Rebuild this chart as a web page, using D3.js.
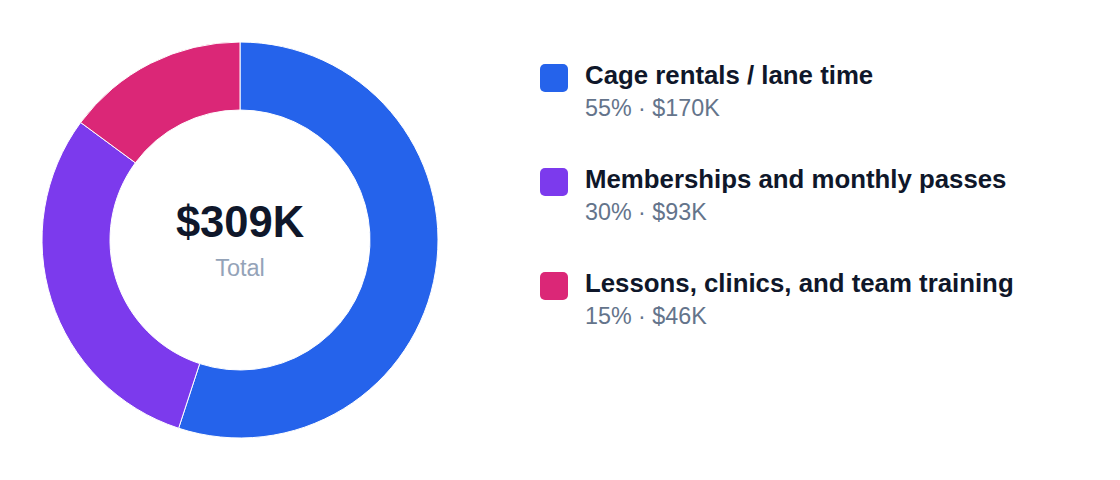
<!DOCTYPE html>
<html>
<head>
<meta charset="utf-8">
<script src="https://cdn.jsdelivr.net/npm/d3@7"></script>
<style>
  html, body { margin: 0; padding: 0; background: #ffffff; }
  svg { display: block; font-family: "Liberation Sans", Arial, Helvetica, sans-serif; }
</style>
</head>
<body>
<svg id="chart" width="1120" height="480"></svg>
<script>
const categories = ["Cage rentals / lane time", "Memberships and monthly passes", "Lessons, clinics, and team training"];
const values = [170, 93, 46];
const percents = ["55%", "30%", "15%"];
const valueLabels = ["$170K", "$93K", "$46K"];
const colors = ["#2563eb", "#7c3aed", "#db2777"];
const totalLabel = "$309K";
const totalCaption = "Total";

const svg = d3.select("#chart");
const cx = 240, cy = 240, outerR = 198, innerR = 130;

const data = categories.map((c, i) => ({ name: c, value: values[i], pct: percents[i], label: valueLabels[i], color: colors[i] }));

const pie = d3.pie().value(d => d.value).sort(null);
const arc = d3.arc().innerRadius(innerR).outerRadius(outerR);

const g = svg.append("g").attr("transform", `translate(${cx},${cy})`);
g.selectAll("path")
  .data(pie(data))
  .join("path")
  .attr("d", arc)
  .attr("fill", d => d.data.color)
  .attr("stroke", "#ffffff")
  .attr("stroke-width", 1);

g.append("text")
  .attr("text-anchor", "middle")
  .attr("y", -3)
  .attr("font-size", 43.5)
  .attr("font-weight", 700)
  .attr("fill", "#0f172a")
  .text(totalLabel);

g.append("text")
  .attr("text-anchor", "middle")
  .attr("y", 36)
  .attr("font-size", 23.5)
  .attr("fill", "#94a3b8")
  .text(totalCaption);

const legend = svg.append("g").attr("transform", "translate(540,64)");
const rowH = 104;
const items = legend.selectAll("g.item")
  .data(data)
  .join("g")
  .attr("class", "item")
  .attr("transform", (d, i) => `translate(0,${i * rowH})`);

items.append("rect")
  .attr("width", 28).attr("height", 28)
  .attr("rx", 5).attr("ry", 5)
  .attr("fill", d => d.color);

items.append("text")
  .attr("x", 45).attr("y", 20)
  .attr("font-size", 25.8)
  .attr("font-weight", 700)
  .attr("fill", "#0f172a")
  .text(d => d.name);

items.append("text")
  .attr("x", 45).attr("y", 52)
  .attr("font-size", 23.3)
  .attr("fill", "#64748b")
  .text(d => `${d.pct} · ${d.label}`);
</script>
</body>
</html>
